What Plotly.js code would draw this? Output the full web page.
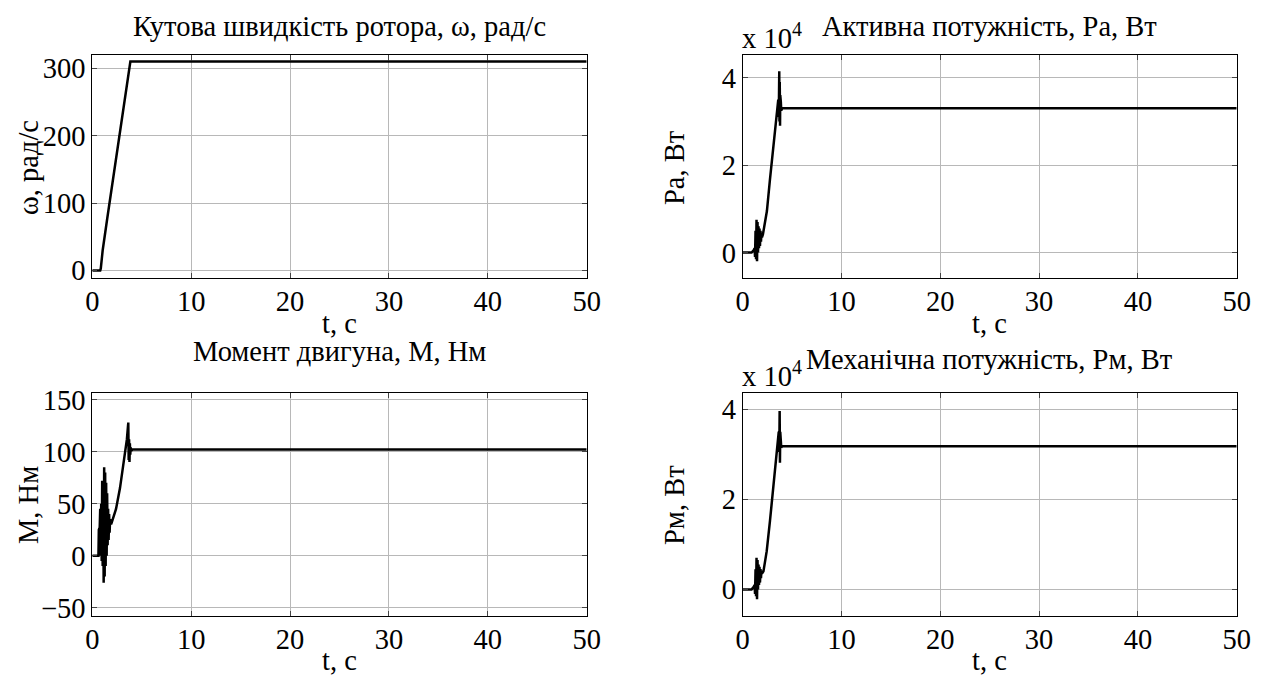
<!DOCTYPE html>
<html>
<head>
<meta charset="utf-8">
<script src="https://cdn.plot.ly/plotly-3.0.1.min.js"></script>
<style>html,body{margin:0;padding:0;background:#fff;}#chart{width:1267px;height:677px;}</style>
</head>
<body>
<div id="chart"></div>
<script>
// ---- data ----
const omegaT = [0, 0.8, 0.86, 1.05, 1.5, 2.0, 2.5, 3.0, 3.5, 3.78, 3.85, 50];
const omegaV = [0, 0, 3, 30, 76, 127, 178, 229, 280, 308, 310, 310];

const paT = [0, 0.9, 1.1, 1.2, 1.25, 1.3, 1.35, 1.4, 1.45, 1.5, 1.55, 1.6, 1.65, 1.7, 1.75, 1.8, 1.85, 1.9, 1.95, 2.05, 2.2, 2.45, 2.75, 3.05, 3.35, 3.5, 3.6, 3.65, 3.7, 3.72, 3.75, 3.78, 3.8, 3.83, 3.86, 3.9, 4.0, 50];
const paV = [0, 0, 500, 1000, -1000, 5000, -1500, 7500, -2000, 7000, 0, 6000, 1000, 5500, 1500, 5000, 2500, 4500, 3500, 4200, 6000, 9500, 16500, 23500, 29500, 32500, 35000, 31000, 41500, 30000, 39000, 29000, 36000, 32000, 34500, 32500, 33000, 33000];

const mT = [0, 0.62, 0.66, 0.75, 0.8, 0.85, 0.9, 0.95, 1.0, 1.05, 1.1, 1.15, 1.2, 1.25, 1.3, 1.35, 1.4, 1.45, 1.5, 1.55, 1.6, 1.65, 1.7, 1.75, 1.8, 1.9, 2.0, 2.4, 2.8, 3.2, 3.5, 3.64, 3.68, 3.72, 3.76, 3.8, 3.84, 3.88, 3.95, 4.05, 50];
const mV = [0, 0, 25, 27, 45, 0, 50, -5, 72, -10, 65, -26, 85, -20, 80, -10, 70, 0, 60, 10, 45, 15, 40, 22, 35, 30, 33, 45, 65, 90, 112, 128, 92, 112, 90, 108, 97, 104, 101, 102, 102];

const pmT = [0, 0.9, 1.1, 1.2, 1.25, 1.3, 1.35, 1.4, 1.45, 1.5, 1.55, 1.6, 1.65, 1.7, 1.75, 1.8, 1.85, 1.9, 1.95, 2.1, 2.43, 2.76, 3.1, 3.37, 3.55, 3.65, 3.7, 3.74, 3.77, 3.8, 3.83, 3.86, 3.9, 4.0, 50];
const pmV = [0, 0, 500, 1000, -1000, 4500, -1500, 7000, -2200, 6500, 0, 5500, 1000, 5000, 1500, 4500, 2500, 4200, 3500, 4000, 8500, 15200, 22600, 29200, 33000, 35000, 30500, 39600, 28100, 35000, 30500, 33000, 31500, 31800, 31800];

const xTicks = [0, 10, 20, 30, 40, 50];
const omegaTicks = [0, 100, 200, 300];
const mTicks = [-50, 0, 50, 100, 150];
const pTicks = [0, 20000, 40000];
const pTickText = ['0', '2', '4'];

const titles = {
  omega: 'Кутова швидкість ротора, ω, рад/с',
  pa: 'Активна потужність, Ра, Вт',
  m: 'Момент двигуна, М, Нм',
  pm: 'Механічна потужність, Рм, Вт'
};
const yLabels = {omega: 'ω, рад/с', pa: 'Ра, Вт', m: 'М, Нм', pm: 'Рм, Вт'};
const xLabel = 't, c';
const expLabel = 'x 10<sup>4</sup>';

// ---- layout ----
const W = 1267, H = 677;
const FONT = "'Liberation Serif', 'Times New Roman', serif";
const FS = 28.5;
const px = x => x / W;
const py = y => 1 - y / H;

const line = {color: '#000', width: 2.5};
const traces = [
  {x: omegaT, y: omegaV, xaxis: 'x', yaxis: 'y', mode: 'lines', line},
  {x: paT, y: paV, xaxis: 'x2', yaxis: 'y2', mode: 'lines', line},
  {x: mT, y: mV, xaxis: 'x3', yaxis: 'y3', mode: 'lines', line},
  {x: pmT, y: pmV, xaxis: 'x4', yaxis: 'y4', mode: 'lines', line}
];

function xa(dom, anchor) {
  return {domain: dom, anchor, range: [0, 50], tickvals: xTicks, ticks: 'inside', ticklen: 5,
    mirror: 'allticks', showline: true, linecolor: '#000', linewidth: 1, showgrid: true,
    gridcolor: '#b8b8b8', gridwidth: 1, zeroline: false, tickfont: {family: FONT, size: FS, color: '#000'},
    ticklabelstandoff: -2};
}
function ya(dom, anchor, range, tv, tt) {
  const o = {domain: dom, anchor, range, tickvals: tv, ticks: 'inside', ticklen: 5,
    mirror: 'allticks', showline: true, linecolor: '#000', linewidth: 1, showgrid: true,
    gridcolor: '#b8b8b8', gridwidth: 1, zeroline: false, tickfont: {family: FONT, size: FS, color: '#000'},
    ticklabelstandoff: 0};
  if (tt) o.ticktext = tt;
  return o;
}

const xL = [px(92.3), px(586.7)], xR = [px(742.7), px(1236.7)];
const yT = [py(277.5), py(55)], yB = [py(616), py(393)];
const cL = px((92.3 + 586.7) / 2), cR = px((742.7 + 1236.7) / 2);

function ann(text, x, y, opts) {
  return Object.assign({text, x, y, xref: 'paper', yref: 'paper', showarrow: false,
    font: {family: FONT, size: FS, color: '#000'}, xanchor: 'center', yanchor: 'middle'}, opts || {});
}

const annotations = [
  ann(titles.omega, cL, py(26)),
  ann(titles.pa, cR, py(26)),
  ann(expLabel, px(740), py(36), {xanchor: 'left'}),
  ann(titles.m, cL, py(351)),
  ann(titles.pm, cR, py(359)),
  ann(expLabel, px(740), py(374), {xanchor: 'left'}),
  ann(xLabel, cL, py(323)),
  ann(xLabel, cR, py(323)),
  ann(xLabel, cL, py(660)),
  ann(xLabel, cR, py(660)),
  ann(yLabels.omega, px(28), py(168), {textangle: -90}),
  ann(yLabels.pa, px(674), py(168), {textangle: -90}),
  ann(yLabels.m, px(28), py(505), {textangle: -90}),
  ann(yLabels.pm, px(674), py(505), {textangle: -90})
];

const layout = {
  width: W, height: H, margin: {l: 0, r: 0, t: 0, b: 0},
  paper_bgcolor: '#fff', plot_bgcolor: '#fff', showlegend: false,
  font: {family: FONT, size: FS, color: '#000'},
  xaxis: xa(xL, 'y'), yaxis: ya(yT, 'x', [-10.4, 319.7], omegaTicks),
  xaxis2: xa(xR, 'y2'), yaxis2: ya(yT, 'x2', [-5700, 45200], pTicks, pTickText),
  xaxis3: xa(xL, 'y3'), yaxis3: ya(yB, 'x3', [-58, 156.4], mTicks),
  xaxis4: xa(xR, 'y4'), yaxis4: ya(yB, 'x4', [-5900, 43600], pTicks, pTickText),
  annotations
};

Plotly.newPlot('chart', traces, layout, {staticPlot: true, displayModeBar: false});
</script>
</body>
</html>
